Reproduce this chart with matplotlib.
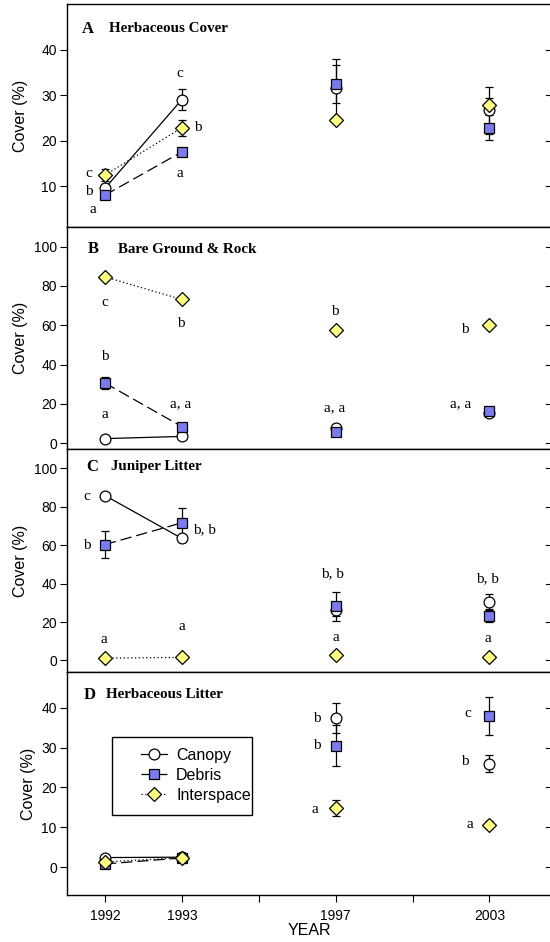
import matplotlib
matplotlib.use("Agg")
import matplotlib.pyplot as plt
from matplotlib.lines import Line2D
from matplotlib.patches import Rectangle

# ---------------- data ----------------
years = ["1992", "1993", "1997", "2003"]
year_slots = [0, 1, 3, 5]          # categorical positions on the x axis (gaps at 2 and 4)
series = ["Canopy", "Debris", "Interspace"]

# Panel A - Herbaceous Cover
A_canopy = [9.5, 29.0, 31.6, 26.6]
A_debris = [8.0, 17.5, 32.5, 22.8]
A_inter = [12.4, 22.8, 24.6, 27.9]
A_canopy_se = [1.0, 2.3, 6.4, 5.2]
A_debris_se = [0.6, 0.6, 4.2, 2.7]
A_inter_se = [1.4, 1.8, 0.6, 1.4]

# Panel B - Bare Ground & Rock
B_canopy = [2.3, 3.4, 7.6, 15.5]
B_debris = [30.6, 8.4, 5.6, 16.5]
B_inter = [84.6, 73.1, 57.7, 59.9]
B_canopy_se = [0.5, 0.8, 1.0, 1.5]
B_debris_se = [3.0, 2.0, 1.0, 2.0]
B_inter_se = [1.5, 1.5, 1.0, 1.0]

# Panel C - Juniper Litter
C_canopy = [85.8, 63.5, 26.0, 30.4]
C_debris = [60.3, 71.6, 28.1, 23.3]
C_inter = [1.2, 1.6, 2.6, 1.9]
C_canopy_se = [1.0, 2.0, 3.0, 4.3]
C_debris_se = [7.0, 7.8, 7.6, 3.5]
C_inter_se = [0.3, 0.3, 0.5, 0.4]

# Panel D - Herbaceous Litter
D_canopy = [2.4, 2.5, 37.5, 26.0]
D_debris = [0.8, 2.3, 30.5, 37.9]
D_inter = [1.3, 2.4, 14.8, 10.7]
D_canopy_se = [0.3, 0.3, 3.7, 2.1]
D_debris_se = [0.3, 0.3, 5.2, 4.7]
D_inter_se = [0.3, 0.3, 2.0, 0.8]

panel_letters = ["A", "B", "C", "D"]
panel_titles = ["Herbaceous Cover", "Bare Ground & Rock", "Juniper Litter", "Herbaceous Litter"]

# significance letters: (text, x in slot units, y in data units)
A_sig = [("c", -0.21, 12.8), ("b", -0.21, 8.9), ("a", -0.16, 4.9),
         ("c", 0.98, 34.7), ("b", 1.21, 22.9), ("a", 0.98, 12.8)]
B_sig = [("c", 0.0, 71.4), ("b", 0.0, 44.3), ("a", 0.0, 14.4),
         ("b", 0.99, 60.9), ("a, a", 0.99, 20.3),
         ("b", 2.99, 67.2), ("a, a", 2.99, 17.8),
         ("b", 4.68, 57.9), ("a, a", 4.63, 19.9)]
C_sig = [("c", -0.23, 85.1), ("b", -0.23, 59.9), ("b, b", 1.30, 68.1),
         ("b, b", 2.96, 45.0), ("b, b", 4.97, 42.4),
         ("a", -0.01, 10.8), ("a", 1.0, 17.7), ("a", 3.0, 12.0), ("a", 4.98, 11.3)]
D_sig = [("b", 2.75, 37.3), ("b", 2.76, 30.6), ("a", 2.73, 14.4),
         ("c", 4.72, 38.5), ("b", 4.68, 26.6), ("a", 4.75, 10.8)]

# ---------------- style ----------------
plt.rcParams["font.family"] = ["Liberation Sans", "DejaVu Sans"]
SERIF = ["Liberation Serif", "DejaVu Serif"]
BLUE = "#7b7bf0"
YELLOW = "#ffff80"
styles = {
    "Canopy": dict(marker="o", mfc="white", ms=7.8, ls="-"),
    "Debris": dict(marker="s", mfc=BLUE, ms=7.0, ls=(0, (9, 4))),
    "Interspace": dict(marker="D", mfc=YELLOW, ms=6.8, ls=(0, (1, 2))),
}

panels = [
    (A_canopy, A_debris, A_inter, A_canopy_se, A_debris_se, A_inter_se, (1, 50), [10, 20, 30, 40], A_sig, 0.888),
    (B_canopy, B_debris, B_inter, B_canopy_se, B_debris_se, B_inter_se, (-3, 110), [0, 20, 40, 60, 80, 100], B_sig, 0.90),
    (C_canopy, C_debris, C_inter, C_canopy_se, C_debris_se, C_inter_se, (-6, 110), [0, 20, 40, 60, 80, 100], C_sig, 0.92),
    (D_canopy, D_debris, D_inter, D_canopy_se, D_debris_se, D_inter_se, (-7, 49), [0, 10, 20, 30, 40], D_sig, 0.897),
]
letter_x = [0.0325, 0.044, 0.041, 0.036]
title_x = [0.087, 0.107, 0.091, 0.082]
ylabel_px = [28, 28, 28, 36]

W, H = 550, 942
fig = plt.figure(figsize=(W / 100, H / 100), dpi=100)
left_px, right_px = 66.5, 551.5
aw = right_px - left_px
bounds_px = [(4, 227), (227, 449), (449, 672), (672, 895)]

for i, (cv, dv, iv, cse, dse, ise, ylim, yticks, sig, ty) in enumerate(panels):
    top, bot = bounds_px[i]
    ax = fig.add_axes([left_px / W, 1 - bot / H, aw / W, (bot - top) / H])
    for name, vals, se in zip(series, [cv, dv, iv], [cse, dse, ise]):
        st = styles[name]
        # connecting line (1992-1993 only)
        ax.plot(year_slots[:2], vals[:2], color="black", lw=0.9, ls=st["ls"], zorder=2)
        ax.errorbar(year_slots, vals, yerr=se, fmt="none", ecolor="black", elinewidth=0.9,
                    capsize=2.7, capthick=0.9, zorder=3)
        ax.plot(year_slots, vals, ls="none", marker=st["marker"], ms=st["ms"],
                mfc=st["mfc"], mec="black", mew=0.9, zorder=4)
    for txt, x, y in sig:
        ax.text(x, y, txt, family=SERIF, fontsize=11, ha="center", va="center", zorder=5)
    ax.text(letter_x[i], ty, panel_letters[i], transform=ax.transAxes, family=SERIF,
            fontweight="bold", fontsize=12, ha="left", va="center")
    ax.text(title_x[i], ty, panel_titles[i], transform=ax.transAxes, family=SERIF,
            fontweight="bold", fontsize=10.8, ha="left", va="center")
    ax.set_ylim(*ylim)
    ax.set_xlim(-0.5, (right_px - 104.3) / 77.0)
    ax.set_yticks(yticks)
    ax.tick_params(axis="y", left=True, right=False, direction="out",
                   length=5, width=0.8, labelsize=10, pad=2)
    ax.set_ylabel("Cover (%)", fontsize=11.5)
    ax.yaxis.set_label_coords((ylabel_px[i] - left_px) / aw, 0.5)
    for s in ax.spines.values():
        s.set_linewidth(1.0)
    ax.spines["right"].set_visible(False)
    if i < 3:
        ax.set_xticks([])
    else:
        ax.set_xticks([0, 1, 2, 3, 4, 5])
        ax.set_xticklabels([years[0], years[1], "", years[2], "", years[3]])
        ax.tick_params(axis="x", direction="out", length=5, width=0.8, labelsize=10, pad=5)
        ax.set_xlabel("YEAR", fontsize=11.5, labelpad=0)
        # legend frame
        ax.add_patch(Rectangle(((112 - left_px) / aw, (bot - 815) / (bot - top)),
                               140 / aw, 78 / (bot - top), transform=ax.transAxes,
                               fill=True, facecolor="white", edgecolor="black", lw=1.0, zorder=6))
        handles = [Line2D([], [], color="black", lw=0.9, ls=styles[n]["ls"], marker=styles[n]["marker"],
                          ms=styles[n]["ms"], mfc=styles[n]["mfc"], mec="black", mew=0.9)
                   for n in series]
        leg = ax.legend(handles, series, loc="upper left",
                        bbox_to_anchor=((141 - left_px) / aw, (bot - 748) / (bot - top)),
                        fontsize=11.5, frameon=False, handlelength=1.6, borderaxespad=0,
                        handletextpad=0.6, labelspacing=0.31, borderpad=0)
        leg.set_zorder(7)
    # right-side inner ticks (right spine lies just outside the figure)
    for yt in yticks:
        ax.plot([1 - 6 / aw, 1.0], [yt, yt], color="black", lw=0.8,
                transform=ax.get_yaxis_transform(), clip_on=False, zorder=1)

fig.savefig("out.png", dpi=100)
